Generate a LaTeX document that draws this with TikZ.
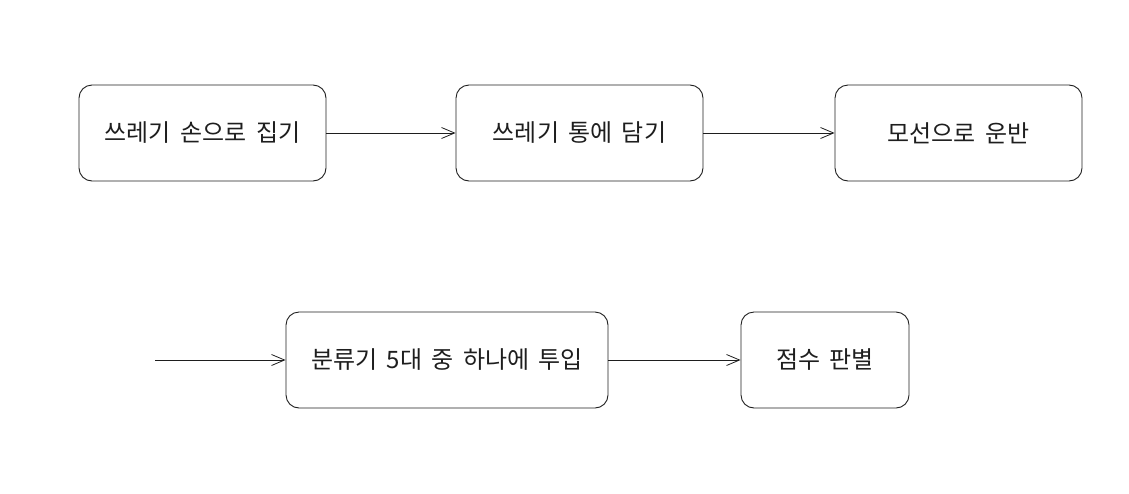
\documentclass[tikz,border=0pt]{standalone}
\usepackage{fontspec}
\newfontfamily\kr{Noto Sans CJK KR}
\usetikzlibrary{arrows.meta}
\definecolor{ink}{HTML}{1E1E1E}
\tikzset{
  box/.style={draw=ink, line width=0.9pt, rounded corners=13pt, minimum height=96pt, inner sep=0pt, font=\kr\fontsize{24pt}{28pt}\selectfont, text=ink},
  conn/.style={draw=ink, line width=0.8pt, -{Straight Barb[length=13pt,width=11pt]}}
}
\begin{document}
\begin{tikzpicture}[x=1pt,y=-1pt]
\useasboundingbox (0,0) rectangle (1129,493);
\node[box, minimum width=247pt] (a) at (202.5,133) {쓰레기\, 손으로\, 집기};
\node[box, minimum width=247pt] (b) at (579.5,133) {쓰레기\, 통에\, 담기};
\node[box, minimum width=247pt] (c) at (958.5,133) {모선으로\, 운반};
\node[box, minimum width=322pt] (d) at (447,360) {분류기\, 5대\, 중\, 하나에\, 투입};
\node[box, minimum width=168pt] (e) at (825,360) {점수\, 판별};
\coordinate (s) at (155,360);
\draw[conn] (a) -- (b);
\draw[conn] (b) -- (c);
\draw[conn] (s) -- (d);
\draw[conn] (d) -- (e);
\end{tikzpicture}
\end{document}
